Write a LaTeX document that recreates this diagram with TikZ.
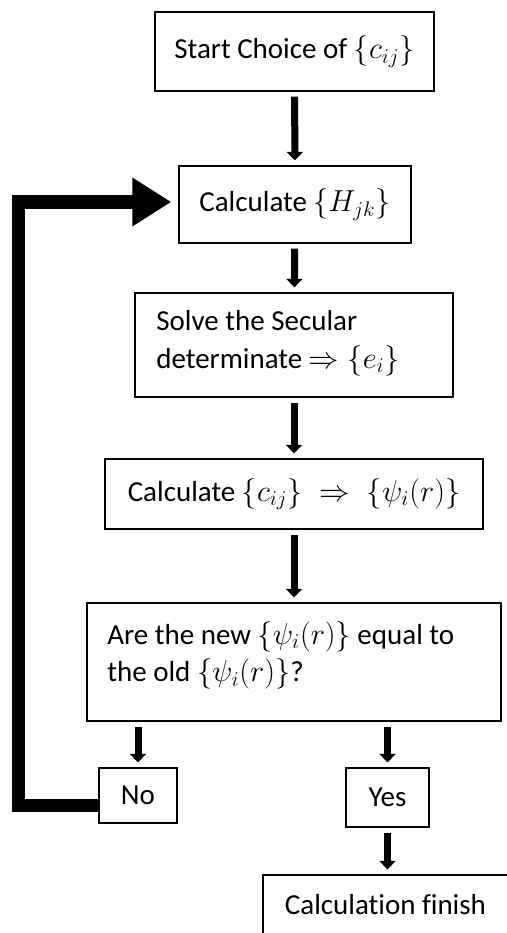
\documentclass[tikz,border=0pt]{standalone}
\usepackage{amsmath}
\usepackage{fontspec}
\setmainfont{Carlito}[Ligatures=NoCommon]
\usetikzlibrary{arrows.meta}

\begin{document}
\begin{tikzpicture}[
    box/.style={draw,line width=0.7pt,inner sep=0pt,font=\fontsize{16.5}{21.5}\selectfont},
    txt/.style={anchor=north west,align=left,inner sep=0pt,font=\fontsize{16.5}{21.5}\selectfont},
    arr/.style={line width=0.14cm,-{Triangle[width=0.32cm,length=0.17cm]},shorten <=0.1cm,shorten >=0.1cm},
    loopback/.style={line width=0.27cm,-{Triangle[width=0.92cm,length=0.78cm]},shorten >=0.14cm}]

\useasboundingbox (0,0) rectangle (10.12,-18.66);

\node[box,minimum width=5.58cm,minimum height=1.58cm] (start) at (5.89,-1.03) {Start Choice of $\left\{c_{ij}\right\}$};
\node[box,minimum width=4.64cm,minimum height=1.54cm] (hjk) at (5.9,-4.09) {Calculate $\left\{H_{jk}\right\}$};
\node[box,minimum width=6.36cm,minimum height=2.08cm] (secular) at (5.88,-6.9) {};
\node[txt] (secular text) at (3.12,-6.2) {Solve the Secular\\determinate $\Rightarrow\{e_i\}$};
\node[box,minimum width=7.56cm,minimum height=1.4cm] (cij) at (5.88,-9.88) {Calculate $\left\{c_{ij}\right\}\;\Rightarrow\;\{\psi_i(r)\}$};
\node[box,minimum width=8.28cm,minimum height=2.36cm] (check) at (5.88,-13.24) {};
\node[txt] (check text) at (2.14,-12.42) {Are the new $\{\psi_i(r)\}$ equal to\\the old $\{\psi_i(r)\}$?};
\node[box,minimum width=1.56cm,minimum height=1.1cm] (no) at (2.76,-15.91) {No};
\node[box,minimum width=1.66cm,minimum height=1.18cm] (yes) at (7.75,-15.95) {Yes};
\node[box,minimum width=4.9cm,minimum height=1.2cm] (finish) at (7.71,-18.1) {Calculation finish};

\coordinate (corner) at (0.37,-4.04);

\draw[arr] (start) -- (hjk);
\draw[arr] (hjk) -- (secular);
\draw[arr] (secular) -- (cij);
\draw[arr] (cij) -- (check);
\draw[arr] (check.south -| no.north) -- (no.north);
\draw[arr] (check.south -| yes.north) -- (yes.north);
\draw[arr] (yes) -- (finish.north -| yes.south);
\draw[loopback] ([yshift=-0.2cm]no.west) -| (corner) -- (corner -| hjk.west);
\end{tikzpicture}
\end{document}
